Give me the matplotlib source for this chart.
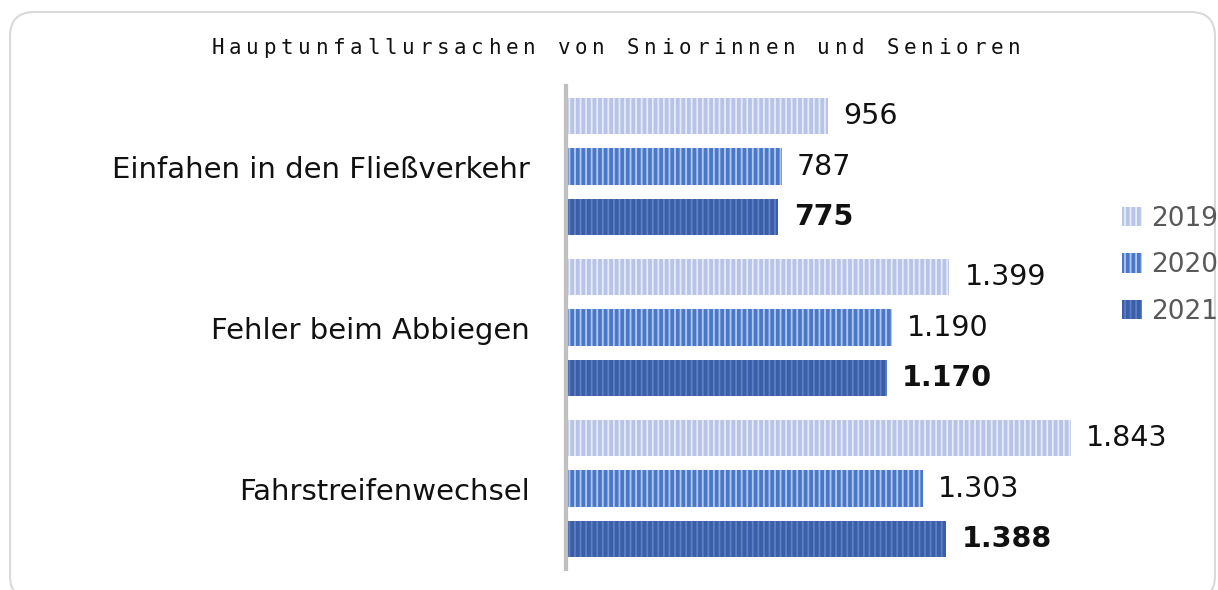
import numpy as np
import matplotlib.pyplot as plt
from matplotlib.patches import FancyBboxPatch

categories = ["Einfahen in den Fließverkehr", "Fehler beim Abbiegen", "Fahrstreifenwechsel"]
years = ["2019", "2020", "2021"]
v2019 = [956, 1399, 1843]
v2020 = [787, 1190, 1303]
v2021 = [775, 1170, 1388]
title = "Hauptunfallursachen von Sniorinnen und Senioren"

series = [v2019, v2020, v2021]
face = ["#b7c4e7", "#4a78c8", "#3b5ea9"]
hatchc = ["#e6ebf7", "#b4c8ec", "#5e7fc2"]

plt.rcParams['font.family'] = ['DejaVu Sans']
plt.rcParams['hatch.linewidth'] = 1.3

fig = plt.figure(figsize=(12.18, 5.9), dpi=100)
W, H = 1218, 590

# rounded frame behind everything
frame = FancyBboxPatch((10 / W, 1 - 600 / H), 1205 / W, 588 / H,
                       boxstyle="round,pad=0,rounding_size=0.02",
                       transform=fig.transFigure, fc="white", ec="#d9d9d9", lw=1.5,
                       mutation_aspect=W / H, zorder=-10)
fig.add_artist(frame)

ax = fig.add_axes([566 / W, 1 - 569 / H, 548 / W, 483 / H])
ax.set_facecolor("none")

y = np.arange(len(categories))
h = 0.224
off = 0.315
for i, vals in enumerate(series):
    pos = y + (i - 1) * off
    ax.barh(pos, vals, height=h, color=face[i], edgecolor=hatchc[i], lw=0,
            hatch='|||', label=years[i])
    for p, v in zip(pos, vals):
        txt = f"{v:,}".replace(",", ".")
        ax.annotate(txt, (v, p), xytext=(11, 0), textcoords="offset points",
                    va="center", ha="left", fontsize=20.5,
                    fontweight="bold" if i == 2 else "normal", color="#111111")

ax.set_xlim(0, 2000)
ax.set_ylim(2.5, -0.5)
ax.set_yticks(y)
ax.set_yticklabels(categories, fontsize=21, color="#111111")
ax.tick_params(axis="y", length=0, pad=26)
ax.set_xticks([])
for s in ["top", "right", "bottom"]:
    ax.spines[s].set_visible(False)
ax.spines["left"].set_color("#bfbfbf")
ax.spines["left"].set_linewidth(3)

# letter-spaced title
x0, x1 = 218, 1014
pitch = (x1 - x0) / (len(title) - 1)
for k, ch in enumerate(title):
    fig.text((x0 + k * pitch) / W, 1 - 48 / H, ch, ha="center", va="center",
             fontsize=15, color="#111111", family="DejaVu Sans Mono")

ax.legend(loc="upper left", bbox_to_anchor=(1098 / W, 1 - 182 / H),
          bbox_transform=fig.transFigure, frameon=False, fontsize=19,
          labelcolor="#595959", handlelength=0.75, handleheight=0.75,
          handletextpad=0.35, labelspacing=0.78)

fig.savefig("out.png", dpi=100)
